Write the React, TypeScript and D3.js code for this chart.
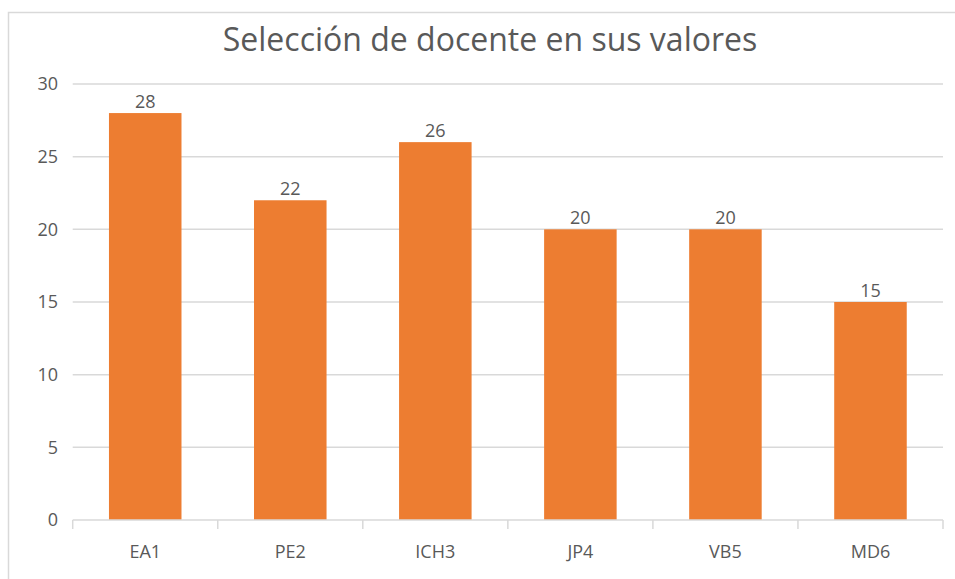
import React from "react";
import * as d3 from "d3";

const categories = ["EA1", "PE2", "ICH3", "JP4", "VB5", "MD6"];
const values = [28, 22, 26, 20, 20, 15];
const yTicks = [0, 5, 10, 15, 20, 25, 30];
const title = "Selección de docente en sus valores";

export default function App() {
  const W = 955, H = 579;
  const left = 72.7, right = 943, top = 84, bottom = 520;
  const x = d3.scaleBand<string>().domain(categories).range([left, right]).paddingInner(0.5).paddingOuter(0.25);
  const y = d3.scaleLinear().domain([0, 30]).range([bottom, top]);
  const step = (right - left) / categories.length;
  const font = "'Open Sans', sans-serif";
  const grey = "#595959";
  return (
    <svg width={W} height={H} style={{ position: "absolute", left: 0, top: 0 }} fontFamily={font}>
      <rect x={0} y={0} width={W} height={H} fill="#fff" />
      <rect x={8.5} y={12.5} width={W} height={H} fill="#fff" stroke="#d9d9d9" strokeWidth={1.5} />
      <text x={490} y={51} textAnchor="middle" fontSize={32} fill={grey}>{title}</text>
      {yTicks.map((t) => (
        <g key={t}>
          {t > 0 && <line x1={left} x2={right} y1={y(t)} y2={y(t)} stroke="#d9d9d9" strokeWidth={1.5} />}
          <text x={58} y={y(t)} dy="0.35em" textAnchor="end" fontSize={18} fill={grey}>{t}</text>
        </g>
      ))}
      {categories.map((c, i) => (
        <g key={c}>
          <rect x={x(c)} y={y(values[i])} width={x.bandwidth()} height={bottom - y(values[i])} fill="#ED7D31" />
          <text x={x(c)! + x.bandwidth() / 2} y={y(values[i]) - 5} textAnchor="middle" fontSize={18} fill={grey}>{values[i]}</text>
          <text x={x(c)! + x.bandwidth() / 2} y={558} textAnchor="middle" fontSize={18} fill={grey}>{c}</text>
        </g>
      ))}
      <line x1={left} x2={right} y1={bottom} y2={bottom} stroke="#d9d9d9" strokeWidth={1.5} />
      {d3.range(categories.length + 1).map((i) => (
        <line key={i} x1={left + i * step} x2={left + i * step} y1={bottom} y2={bottom + 9} stroke="#d9d9d9" strokeWidth={1.5} />
      ))}
    </svg>
  );
}
